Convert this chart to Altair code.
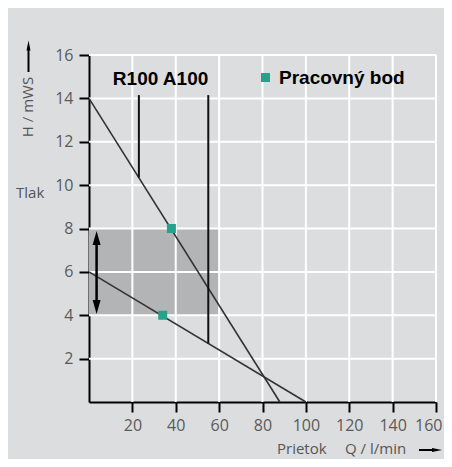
import altair as alt
import pandas as pd

# ---- data ----
steep_q = [0, 88]
steep_h = [14, 0]
flat_q = [0, 100]
flat_h = [6, 0]
model_names = ["R100", "A100"]
model_q = [23, 55]
model_h_top = [14.15, 14.15]
model_h_bottom = [10.35, 2.7]
work_q = [38, 34]
work_h = [8, 4]
work_series = ["Pracovný bod", "Pracovný bod"]
band_q = [0, 60]
band_h = [4, 8]
x_ticks = [20, 40, 60, 80, 100, 120, 140, 160]
y_ticks = [2, 4, 6, 8, 10, 12, 14, 16]
range_arrow_q = 3.5
range_arrow_h = [4.06, 7.88]
model_label = "R100 A100"
model_label_q = 11
model_label_h = 14.9

BG = "#dcdddf"
TEAL = "#27a08c"
LABEL_GRAY = "#5a5a5a"

xs = alt.Scale(domain=[0, 160], nice=False, zero=False)
ys = alt.Scale(domain=[0, 16], nice=False, zero=False)
x_axis = alt.Axis(values=x_ticks, title=None, grid=False, domainColor="black", domainWidth=2,
                  tickColor="black", tickWidth=2, tickSize=10, labelFont="Open Sans",
                  labelFontSize=16, labelColor=LABEL_GRAY, labelPadding=5,
                  labelFlush=True, labelFlushOffset=6)
y_axis = alt.Axis(values=y_ticks, title=None, grid=False, domainColor="black", domainWidth=2,
                  tickColor="black", tickWidth=2, tickSize=10, labelFont="Open Sans",
                  labelFontSize=16, labelColor=LABEL_GRAY, labelPadding=6, labelFlush=False)


def X(field):
    return alt.X(field, type="quantitative", scale=xs, axis=x_axis)


def Y(field):
    return alt.Y(field, type="quantitative", scale=ys, axis=y_axis)


band_df = pd.DataFrame({"q0": [band_q[0]], "q1": [band_q[1]], "h0": [band_h[0]], "h1": [band_h[1]]})
band = alt.Chart(band_df).mark_rect(color="#b3b4b6").encode(
    x=X("q0"), x2="q1", y=Y("h0"), y2="h1")

grid_v_df = pd.DataFrame({"q": x_ticks, "h0": [0] * len(x_ticks), "h1": [16] * len(x_ticks)})
grid_v = alt.Chart(grid_v_df).mark_rule(color="white", strokeWidth=2).encode(
    x=X("q"), y=Y("h0"), y2="h1")
grid_h_df = pd.DataFrame({"h": y_ticks, "q0": [0] * len(y_ticks), "q1": [160] * len(y_ticks)})
grid_h = alt.Chart(grid_h_df).mark_rule(color="white", strokeWidth=2).encode(
    y=Y("h"), x=X("q0"), x2="q1")

curves_df = pd.DataFrame({
    "q": steep_q + flat_q,
    "h": steep_h + flat_h,
    "curve": ["steep"] * len(steep_q) + ["flat"] * len(flat_q),
})
curves = alt.Chart(curves_df).mark_line(color="#333333", strokeWidth=1.6).encode(
    x=X("q"), y=Y("h"), detail="curve:N")

models_df = pd.DataFrame({"name": model_names, "q": model_q, "h0": model_h_bottom, "h1": model_h_top})
models = alt.Chart(models_df).mark_rule(color="#111111", strokeWidth=2).encode(
    x=X("q"), y=Y("h0"), y2="h1")

model_text = alt.Chart(pd.DataFrame({"t": [model_label], "q": [model_label_q], "h": [model_label_h]})).mark_text(
    align="left", baseline="middle", font="Liberation Sans", fontWeight="bold", fontSize=19, color="black"
).encode(x=X("q"), y=Y("h"), text="t:N")

arrow_df = pd.DataFrame({"q": [range_arrow_q], "h0": [range_arrow_h[0] + 0.3], "h1": [range_arrow_h[1] - 0.3]})
arrow_line = alt.Chart(arrow_df).mark_rule(color="black", strokeWidth=2.5).encode(
    x=X("q"), y=Y("h0"), y2="h1")
heads_df = pd.DataFrame({"q": [range_arrow_q, range_arrow_q],
                         "h": [range_arrow_h[1] - 0.32, range_arrow_h[0] + 0.32]})
head_up = alt.Chart(heads_df.iloc[[0]]).mark_point(
    shape="M0,-1L0.57,1L-0.57,1Z", filled=True, color="black", size=196, opacity=1
).encode(x=X("q"), y=Y("h"))
head_down = alt.Chart(heads_df.iloc[[1]]).mark_point(
    shape="M0,1L0.57,-1L-0.57,-1Z", filled=True, color="black", size=196, opacity=1
).encode(x=X("q"), y=Y("h"))

work_df = pd.DataFrame({"q": work_q, "h": work_h, "series": work_series})
work = alt.Chart(work_df).mark_point(shape="square", filled=True, size=81, opacity=1).encode(
    x=X("q"), y=Y("h"),
    color=alt.Color("series:N", scale=alt.Scale(range=[TEAL]),
                    legend=alt.Legend(orient="none", legendX=167, legendY=13, title=None,
                                      symbolType="square", symbolSize=81, symbolStrokeWidth=0,
                                      labelFont="Liberation Sans", labelFontWeight="bold",
                                      labelFontSize=19, labelColor="black", labelOffset=4,
                                      padding=0)))

# ---- axis titles and arrows (outside the plot area) ----
def ptext(t, x, y, **kw):
    return alt.Chart(pd.DataFrame({"t": [t]})).mark_text(
        font="Open Sans", fontSize=15, color="#555555", **kw
    ).encode(x=alt.value(x), y=alt.value(y), text="t:N")

BOTTOM_Y = 394
tlak = ptext("Tlak", -73, 138, align="left", baseline="middle")
h_title = ptext("H / mWS", -61, 52, align="center", baseline="middle", angle=270)
prietok = ptext("Prietok", 188, BOTTOM_Y, align="left", baseline="middle")
q_title = ptext("Q / l/min", 256, BOTTOM_Y, align="left", baseline="middle")

dummy = pd.DataFrame({"a": [0]})
y_arrow_line = alt.Chart(dummy).mark_rule(color="black", strokeWidth=2).encode(
    x=alt.value(-60.5), y=alt.value(-7), y2=alt.value(17))
y_arrow_head = alt.Chart(dummy).mark_point(
    shape="M0,-1L0.4,1L-0.4,1Z", filled=True, color="black", size=100, opacity=1
).encode(x=alt.value(-60.5), y=alt.value(-9.5))
x_arrow_line = alt.Chart(dummy).mark_rule(color="black", strokeWidth=2).encode(
    x=alt.value(330), x2=alt.value(346), y=alt.value(BOTTOM_Y + 1))
x_arrow_head = alt.Chart(dummy).mark_point(
    shape="M1,0L-1,-0.4L-1,0.4Z", filled=True, color="black", size=100, opacity=1
).encode(x=alt.value(348), y=alt.value(BOTTOM_Y + 1))

chart = alt.layer(
    band, grid_v, grid_h, curves, models, arrow_line, head_up, head_down, work, model_text,
    tlak, h_title, prietok, q_title, y_arrow_line, y_arrow_head, x_arrow_line, x_arrow_head
).properties(
    width=347, height=347,
    autosize=alt.AutoSizeParams(type="none"),
    padding={"left": 81, "top": 47, "right": 8, "bottom": 57},
    background=BG,
).configure_view(stroke=None)

chart.save("out.html", embed_options={"renderer": "svg", "actions": False})
